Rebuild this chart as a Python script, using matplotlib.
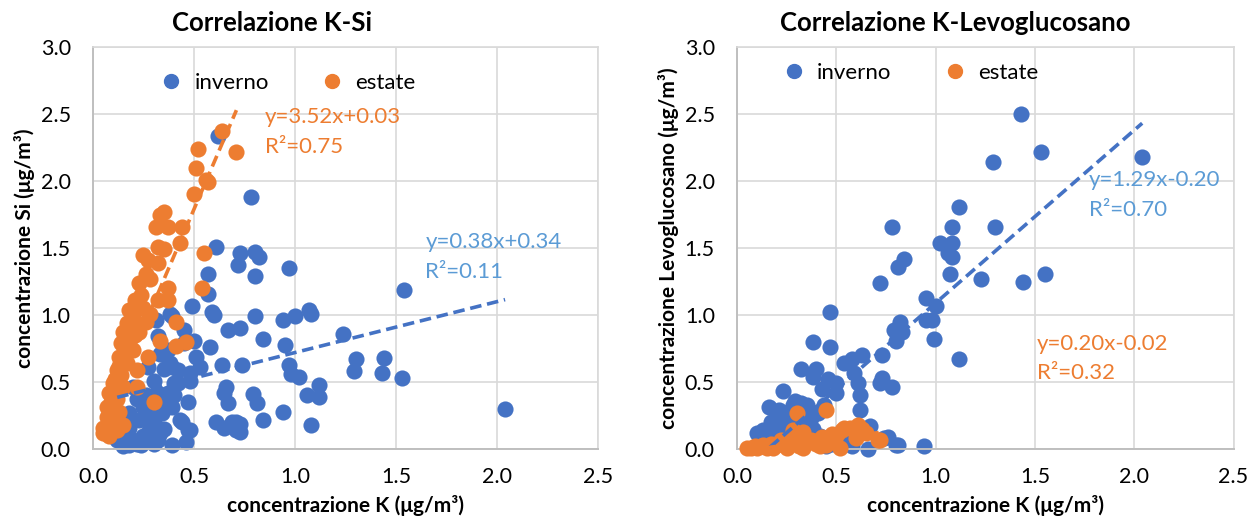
"""Correlazioni K-Si e K-Levoglucosano, inverno vs estate."""

import matplotlib
matplotlib.use("Agg")
import matplotlib.pyplot as plt
from matplotlib.lines import Line2D

plt.rcParams["font.family"] = ["Lato", "DejaVu Sans"]

BLUE = "#4472C4"
ORANGE = "#ED7D31"
BLUE_TXT = "#5B9BD5"

# ── K-Si, inverno ─────────────────────────────
k_si_inv_k = [0.62, 0.78, 0.61, 0.73, 0.80, 0.82, 0.72, 0.80, 0.97, 0.57, 0.57, 0.49, 0.59, 0.60,
              0.80, 0.94, 1.00, 1.07, 1.08, 0.67, 0.73, 0.84, 0.95, 1.24, 0.58, 0.39, 0.45, 0.50,
              0.37, 0.51, 0.39, 0.53, 0.64, 0.74, 0.97, 0.98, 1.02, 1.30, 1.29, 1.44, 1.43, 1.53,
              1.54, 2.04, 0.48, 0.40, 0.66, 0.65, 0.79, 0.81, 1.06, 1.12, 1.12, 0.47, 0.67, 0.94,
              0.84, 1.08, 0.61, 0.65, 0.71, 0.71, 0.44, 0.47, 0.46, 0.39, 0.24, 0.15, 0.29, 0.38,
              0.31, 0.33, 0.38, 0.35, 0.27, 0.30, 0.42, 0.48, 0.37, 0.39, 0.34, 0.25, 0.23, 0.28,
              0.18, 0.15, 0.12, 0.33, 0.43, 0.48, 0.42, 0.45, 0.32, 0.20, 0.22, 0.32, 0.18, 0.27,
              0.32, 0.20, 0.73, 0.73, 0.69, 0.25, 0.30, 0.35, 0.22, 0.28, 0.35, 0.40, 0.26, 0.30,
              0.18]
k_si_inv_si = [2.34, 1.88, 1.51, 1.46, 1.47, 1.43, 1.37, 1.29, 1.35, 1.31, 1.16, 1.07, 1.02, 1.00,
               0.99, 0.96, 0.99, 1.04, 1.01, 0.89, 0.90, 0.82, 0.78, 0.86, 0.76, 0.99, 0.89, 0.81,
               0.74, 0.69, 0.61, 0.61, 0.63, 0.63, 0.63, 0.56, 0.54, 0.67, 0.58, 0.68, 0.57, 0.53,
               1.19, 0.30, 0.51, 0.49, 0.46, 0.42, 0.41, 0.34, 0.40, 0.48, 0.39, 0.35, 0.34, 0.28,
               0.22, 0.18, 0.20, 0.16, 0.20, 0.14, 0.20, 0.14, 0.05, 0.03, 0.03, 0.02, 0.09, 1.01,
               0.96, 0.71, 0.64, 0.60, 0.61, 0.51, 0.49, 0.57, 0.42, 0.31, 0.27, 0.31, 0.22, 0.16,
               0.16, 0.12, 0.07, 0.12, 0.22, 0.14, 0.59, 0.79, 0.84, 0.46, 0.37, 0.42, 0.27, 0.12,
               0.07, 0.07, 0.19, 0.13, 0.20, 0.10, 0.20, 0.15, 0.04, 0.25, 0.35, 0.40, 0.40, 0.04,
               0.03]

# ── K-Si, estate ──────────────────────────────
k_si_est_k = [0.64, 0.52, 0.71, 0.51, 0.56, 0.57, 0.50, 0.35, 0.33, 0.31, 0.37, 0.44, 0.43, 0.32,
              0.35, 0.25, 0.27, 0.32, 0.55, 0.26, 0.28, 0.23, 0.37, 0.54, 0.21, 0.32, 0.37, 0.18,
              0.28, 0.17, 0.22, 0.41, 0.15, 0.23, 0.33, 0.46, 0.41, 0.14, 0.20, 0.13, 0.27, 0.17,
              0.12, 0.22, 0.10, 0.15, 0.22, 0.08, 0.12, 0.30, 0.07, 0.13, 0.07, 0.10, 0.05, 0.07,
              0.12, 0.15, 0.05, 0.10, 0.12, 0.14, 0.16, 0.18, 0.19, 0.20, 0.21, 0.24, 0.25, 0.26,
              0.08, 0.09, 0.11, 0.13, 0.17, 0.15, 0.06, 0.08, 0.10]
k_si_est_si = [2.37, 2.24, 2.22, 2.10, 2.01, 1.99, 1.90, 1.77, 1.75, 1.66, 1.66, 1.66, 1.54, 1.51,
               1.49, 1.45, 1.41, 1.39, 1.46, 1.31, 1.27, 1.24, 1.20, 1.20, 1.11, 1.11, 1.11, 1.04,
               1.01, 0.94, 0.91, 0.95, 0.87, 0.87, 0.81, 0.80, 0.77, 0.79, 0.74, 0.69, 0.69, 0.64,
               0.59, 0.59, 0.49, 0.46, 0.46, 0.42, 0.37, 0.35, 0.31, 0.28, 0.24, 0.22, 0.16, 0.11,
               0.14, 0.18, 0.12, 0.30, 0.45, 0.55, 0.70, 0.80, 0.95, 1.00, 0.85, 1.15, 1.05, 0.95,
               0.20, 0.35, 0.52, 0.62, 0.75, 0.78, 0.15, 0.10, 0.40]

# ── K-Levoglucosano, inverno ──────────────────
k_lev_inv_k = [1.43, 1.53, 1.29, 2.04, 1.12, 0.78, 1.08, 1.30, 1.02, 1.08, 1.06, 1.08, 0.84, 0.81,
               1.07, 1.23, 1.44, 1.55, 0.72, 0.95, 1.00, 0.95, 0.98, 0.82, 0.79, 0.83, 0.80, 0.99,
               1.12, 0.73, 0.73, 0.78, 0.72, 0.74, 0.80, 0.94, 0.47, 0.38, 0.47, 0.32, 0.40, 0.38,
               0.46, 0.50, 0.43, 0.50, 0.54, 0.58, 0.63, 0.59, 0.61, 0.62, 0.62, 0.16, 0.23, 0.21,
               0.27, 0.32, 0.36, 0.37, 0.32, 0.25, 0.18, 0.13, 0.10, 0.67, 0.76, 0.81, 0.66, 0.58,
               0.28, 0.30, 0.34, 0.26, 0.22, 0.30, 0.35, 0.40, 0.45, 0.20, 0.15, 0.12, 0.38, 0.42,
               0.48, 0.52, 0.55, 0.27, 0.31, 0.35, 0.29, 0.33, 0.24, 0.19, 0.41, 0.44, 0.26, 0.36,
               0.17, 0.14]
k_lev_inv_lev = [2.50, 2.22, 2.14, 2.18, 1.81, 1.66, 1.66, 1.66, 1.54, 1.54, 1.46, 1.43, 1.42, 1.36,
                 1.31, 1.27, 1.25, 1.31, 1.24, 1.13, 1.07, 0.96, 0.96, 0.95, 0.89, 0.87, 0.81, 0.82,
                 0.67, 0.70, 0.53, 0.46, 0.49, 0.08, 0.03, 0.02, 1.02, 0.80, 0.76, 0.60, 0.60, 0.54,
                 0.52, 0.49, 0.45, 0.42, 0.64, 0.67, 0.70, 0.57, 0.49, 0.40, 0.29, 0.31, 0.43, 0.29,
                 0.29, 0.34, 0.29, 0.23, 0.24, 0.22, 0.16, 0.14, 0.12, 0.17, 0.09, 0.03, 0.00, 0.02,
                 0.33, 0.27, 0.20, 0.15, 0.10, 0.12, 0.08, 0.05, 0.02, 0.05, 0.04, 0.07, 0.15, 0.10,
                 0.04, 0.02, 0.08, 0.24, 0.31, 0.33, 0.36, 0.17, 0.19, 0.21, 0.27, 0.33, 0.06, 0.10,
                 0.20, 0.08]

# ── K-Levoglucosano, estate ───────────────────
k_lev_est_k = [0.30, 0.45, 0.57, 0.63, 0.71, 0.50, 0.43, 0.53, 0.33, 0.27, 0.22, 0.17, 0.07, 0.10,
               0.15, 0.25, 0.33, 0.40, 0.47, 0.52, 0.37, 0.28, 0.54, 0.61, 0.72, 0.12, 0.20, 0.35,
               0.45, 0.60, 0.65, 0.05, 0.09, 0.13, 0.18, 0.23, 0.31, 0.39, 0.42, 0.48]
k_lev_est_lev = [0.27, 0.29, 0.16, 0.15, 0.07, 0.10, 0.09, 0.14, 0.13, 0.10, 0.07, 0.04, 0.01, 0.01,
                 0.01, 0.01, 0.01, 0.04, 0.07, 0.01, 0.07, 0.14, 0.16, 0.18, 0.07, 0.02, 0.03, 0.05,
                 0.03, 0.08, 0.12, 0.01, 0.02, 0.03, 0.01, 0.04, 0.02, 0.06, 0.02, 0.11]

# trendline (coefficienti dalle etichette)
fits = {
    "si_inv": (0.38, 0.34, 0.11), "si_est": (3.52, 0.03, 0.75),
    "lev_inv": (1.29, -0.20, 0.70), "lev_est": (0.20, -0.02, 0.32),
}


def eq(m, q):
    return f"y={m:.2f}x{'+' if q >= 0 else '-'}{abs(q):.2f}"


def trend(ax, xs, key, color):
    m, q, _ = fits[key]
    x0, x1 = min(xs), max(xs)
    ax.plot([x0, x1], [m * x0 + q, m * x1 + q], ls=(0, (3.2, 1.6)), lw=2.6,
            color=color, zorder=4, solid_capstyle="butt")


def style(ax, title, title_x, ylabel, leg_x, leg_y):
    ax.set_xlim(0, 2.5); ax.set_ylim(0, 3.0)
    ax.set_xticks([0, 0.5, 1.0, 1.5, 2.0, 2.5]); ax.set_yticks([0, 0.5, 1, 1.5, 2, 2.5, 3])
    ax.xaxis.set_major_formatter(matplotlib.ticker.FormatStrFormatter("%.1f"))
    ax.yaxis.set_major_formatter(matplotlib.ticker.FormatStrFormatter("%.1f"))
    ax.grid(color="#d9d9d9", lw=1.2, zorder=0)
    ax.set_axisbelow(True)
    for s in ("top", "right"):
        ax.spines[s].set_color("#d9d9d9"); ax.spines[s].set_linewidth(1.2)
    for s in ("left", "bottom"):
        ax.spines[s].set_color("#bfbfbf"); ax.spines[s].set_linewidth(1.4)
    ax.tick_params(length=0, labelsize=15.5, colors="#000000")
    ax.tick_params(axis="x", pad=13)
    ax.tick_params(axis="y", pad=16)
    ax.text(title_x, 1.06, title, transform=ax.transAxes, ha="center", va="center",
            fontsize=18.5, fontweight="bold")
    ax.set_xlabel("concentrazione K (μg/m³)", fontsize=15, fontweight="bold", labelpad=6)
    ax.set_ylabel(ylabel, fontsize=15, fontweight="bold", labelpad=4)
    handles = [Line2D([], [], ls="none", marker="o", ms=10, color=BLUE, label="inverno"),
               Line2D([], [], ls="none", marker="o", ms=10, color=ORANGE, label="estate")]
    ax.legend(handles=handles, loc="center", bbox_to_anchor=(leg_x, leg_y), ncol=2,
              frameon=False, fontsize=16, handletextpad=0.05, columnspacing=1.85)


fig = plt.figure(figsize=(12.55, 5.22), dpi=100)
ax1 = fig.add_axes([0.0741, 0.1398, 0.4024, 0.770])
ax2 = fig.add_axes([0.5873, 0.1398, 0.3956, 0.770])

MS = 135

# (1) K-Si
ax1.scatter(k_si_inv_k, k_si_inv_si, s=MS, color=BLUE, lw=0, zorder=2, clip_on=False)
ax1.scatter(k_si_est_k, k_si_est_si, s=MS, color=ORANGE, lw=0, zorder=3, clip_on=False)
trend(ax1, k_si_inv_k, "si_inv", BLUE)
trend(ax1, k_si_est_k, "si_est", ORANGE)
style(ax1, "Correlazione K-Si", 0.355, "concentrazione Si (μg/m³)", 0.375, 0.91)
m, q, r2 = fits["si_est"]
ax1.text(0.85, 2.55, f"{eq(m, q)}\nR²={r2:.2f}", color=ORANGE, fontsize=16, va="top",
         linespacing=1.6)
m, q, r2 = fits["si_inv"]
ax1.text(1.645, 1.62, f"{eq(m, q)}\nR²={r2:.2f}", color=BLUE_TXT, fontsize=16, va="top",
         linespacing=1.6)

# (2) K-Levoglucosano
ax2.scatter(k_lev_inv_k, k_lev_inv_lev, s=MS, color=BLUE, lw=0, zorder=2, clip_on=False)
ax2.scatter(k_lev_est_k, k_lev_est_lev, s=MS, color=ORANGE, lw=0, zorder=3, clip_on=False)
trend(ax2, k_lev_inv_k, "lev_inv", BLUE)
trend(ax2, k_lev_est_k, "lev_est", ORANGE)
style(ax2, "Correlazione K-Levoglucosano", 0.44, "concentrazione Levoglucosano (μg/m³)",
      0.338, 0.935)
m, q, r2 = fits["lev_inv"]
ax2.text(1.77, 2.08, f"{eq(m, q)}\nR²={r2:.2f}", color=BLUE_TXT, fontsize=16, va="top",
         linespacing=1.6)
m, q, r2 = fits["lev_est"]
ax2.text(1.51, 0.86, f"{eq(m, q)}\nR²={r2:.2f}", color=ORANGE, fontsize=16, va="top",
         linespacing=1.6)

fig.savefig("out.png", dpi=100)
